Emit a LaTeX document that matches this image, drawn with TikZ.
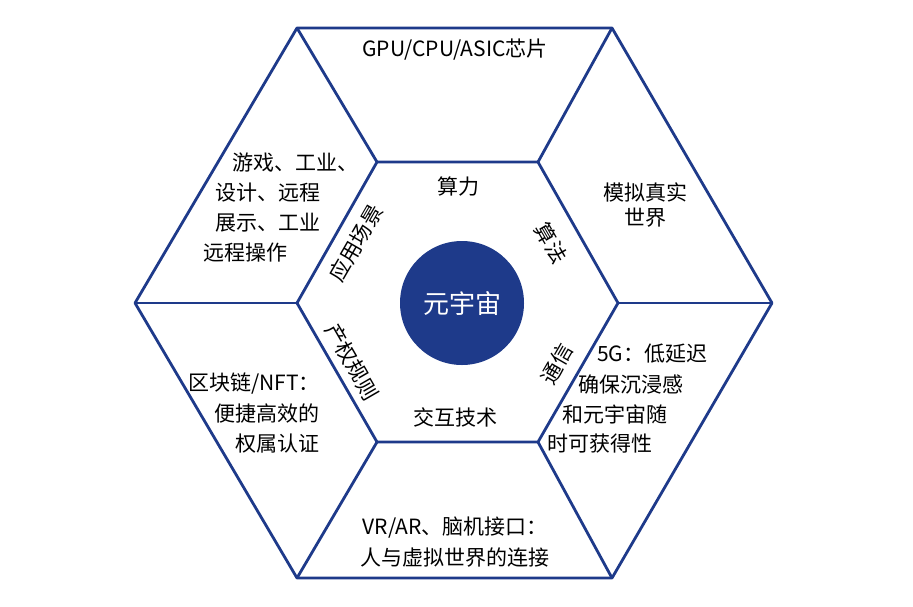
\documentclass[tikz,border=0pt]{standalone}
\usepackage{fontspec}
\newfontfamily\cjk{Noto Sans CJK SC}
\begin{document}
\begin{tikzpicture}[x=1pt,y=-1pt, every node/.style={font=\cjk\fontsize{21}{25}\selectfont},
  edge/.style={draw=hexblue,line width=2.8pt,line join=round},
  lbl/.style={inner sep=0pt}, lft/.style={anchor=west,inner sep=0pt}]
\definecolor{hexblue}{HTML}{1E3A8A}
\useasboundingbox (0,0) rectangle (913,606);
%================================================================
%	Vertices
\coordinate (o1) at (297,28);  \coordinate (o2) at (612,28);
\coordinate (o3) at (772,303); \coordinate (o4) at (612,578);
\coordinate (o5) at (297,578); \coordinate (o6) at (135,303);
\coordinate (i1) at (377,162); \coordinate (i2) at (538,162);
\coordinate (i3) at (618,303); \coordinate (i4) at (538,442);
\coordinate (i5) at (377,442); \coordinate (i6) at (297,303);
%================================================================
%	Lines
\draw[edge] (o1) -- (o2) -- (o3) -- (o4) -- (o5) -- (o6) -- cycle;
\draw[edge] (i1) -- (i2) -- (i3) -- (i4) -- (i5) -- (i6) -- cycle;
\foreach \k in {1,...,6} \draw[edge] (o\k) -- (i\k);
%================================================================
%	Centre
\node[circle,fill=hexblue,minimum size=124pt,text=white,font=\cjk\fontsize{26}{29}\selectfont] (core) at (462,303) {元宇宙};
%----------------------------------------------------------------
\node[lbl] (t1) at (458,187) {算力};
\node[lbl,rotate=-60] (t2) at (551,243) {算法};
\node[lbl,rotate=60] (t3) at (557,364) {通信};
\node[lbl] (t4) at (455,417) {交互技术};
\node[lbl,rotate=-60] (t5) at (352,362) {产权规则};
\node[lbl,rotate=60] (t6) at (356,243) {应用场景};
%----------------------------------------------------------------
\node[lbl] (g1) at (455,50) {GPU/CPU/ASIC芯片};
\node[align=center,lbl] (g2) at (645,205) {模拟真实\\世界};
\node[lft] (g3a) at (597,354) {5G：低延迟};
\node[lft] (g3b) at (578,384) {确保沉浸感};
\node[lft] (g3c) at (562,414) {和元宇宙随};
\node[lft] (g3d) at (547,444) {时可获得性};
\node[lbl] (g4a) at (455,528) {VR/AR、脑机接口：};
\node[lbl] (g4b) at (455,558) {人与虚拟世界的连接};
\node[lft] (g5a) at (188,384) {区块链/NFT：};
\node[lft] (g5b) at (214,414) {便捷高效的};
\node[lft] (g5c) at (235,444) {权属认证};
\node[lft] (g6a) at (232,163) {游戏、工业、};
\node[lft] (g6b) at (215,193) {设计、远程};
\node[lft] (g6c) at (215,223) {展示、工业};
\node[lft] (g6d) at (203,253) {远程操作};
\end{tikzpicture}
\end{document}
